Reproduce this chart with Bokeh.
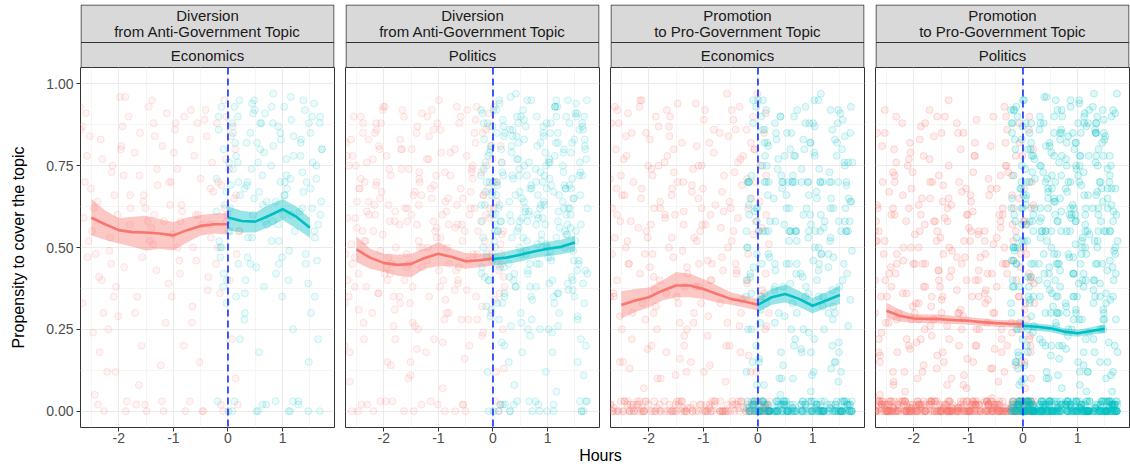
from bokeh.plotting import figure
from bokeh.models import Range1d, FixedTicker, Grid, Span, PrintfTickFormatter
from bokeh.layouts import row, column
from bokeh.embed import file_html
from bokeh.resources import INLINE
from bokeh.core.properties import value

# ---------------- data ----------------
FACET_TOP = ["Diversion\nfrom Anti-Government Topic", "Diversion\nfrom Anti-Government Topic",
             "Promotion\nto Pro-Government Topic", "Promotion\nto Pro-Government Topic"]
FACET_BOTTOM = ["Economics", "Politics", "Economics", "Politics"]
X_TICKS = [-2, -1, 0, 1]
X_MINOR = [-2.5, -1.5, -0.5, 0.5, 1.5]
Y_TICKS = [0, 0.25, 0.5, 0.75, 1.0]
Y_MINOR = [0.125, 0.375, 0.625, 0.875]
X_LABEL = "Hours"
Y_LABEL = "Propensity to cover the topic"

# jittered hour positions of the observations (pre = red, post = teal)
X_RED_12 = [-2.67,-2.46,-2.31,-2.58,-2.38,-2.71,-2.49,-2.35,-2.62,-2.42,-2.53,-2.28,
            -1.91,-2.14,-1.82,-2.02,-2.19,-1.87,-1.95,-2.09,-1.79,-2.16,-1.98,-2.06,
            -1.54,-1.34,-1.70,-1.43,-1.39,-1.63,-1.30,-1.57,-1.47,-1.68,-1.36,-1.51,
            -1.17,-0.96,-0.81,-1.08,-0.88,-1.21,-0.99,-0.85,-1.12,-0.92,-1.03,-0.78,
            -0.41,-0.64,-0.32,-0.52,-0.69,-0.37,-0.45,-0.59,-0.29,-0.66,-0.48,-0.56,
            -0.04,0.16,-0.20,0.07,0.11,-0.13,0.20,-0.07,0.03,-0.18,0.14,-0.01]
X_RED_14 = [-2.60,-2.39,-2.66,-2.44,-2.30,-2.55,-2.70,-2.36,-2.51,-2.27,-2.64,-2.47,-2.33,-2.57,
            -2.13,-1.88,-2.05,-1.80,-2.21,-1.96,-2.08,-1.85,-2.17,-1.93,-2.01,-1.78,-2.11,-1.90,
            -1.61,-1.40,-1.52,-1.29,-1.66,-1.45,-1.35,-1.58,-1.71,-1.37,-1.49,-1.62,-1.31,-1.55,
            -1.06,-1.20,-0.89,-1.14,-0.80,-1.01,-1.18,-0.93,-1.09,-0.84,-0.97,-1.23,-0.87,-1.04,
            -0.62,-0.36,-0.55,-0.43,-0.70,-0.31,-0.50,-0.65,-0.39,-0.58,-0.27,-0.47,-0.68,-0.34,
            -0.12,0.09,-0.19,0.18,-0.06,0.13,-0.15,0.02,0.21,-0.09,0.06,-0.22,0.15,-0.03]
X_RED_20 = [-2.67,-2.46,-2.31,-2.58,-2.38,-2.71,-2.49,-2.35,-2.62,-2.42,-2.53,-2.28,-2.41,-2.64,-2.32,-2.52,-2.69,-2.37,-2.45,-2.59,
            -1.91,-2.14,-1.82,-2.02,-2.19,-1.87,-1.95,-2.09,-1.79,-2.16,-1.98,-2.06,-2.04,-1.84,-2.20,-1.93,-1.89,-2.13,-1.80,-2.07,
            -1.54,-1.34,-1.70,-1.43,-1.39,-1.63,-1.30,-1.57,-1.47,-1.68,-1.36,-1.51,-1.67,-1.46,-1.31,-1.58,-1.38,-1.71,-1.49,-1.35,
            -1.17,-0.96,-0.81,-1.08,-0.88,-1.21,-0.99,-0.85,-1.12,-0.92,-1.03,-0.78,-0.91,-1.14,-0.82,-1.02,-1.19,-0.87,-0.95,-1.09,
            -0.41,-0.64,-0.32,-0.52,-0.69,-0.37,-0.45,-0.59,-0.29,-0.66,-0.48,-0.56,-0.54,-0.34,-0.70,-0.43,-0.39,-0.63,-0.30,-0.57,
            -0.04,0.16,-0.20,0.07,0.11,-0.13,0.20,-0.07,0.03,-0.18,0.14,-0.01,-0.17,0.04,0.19,-0.08,0.12,-0.21,0.01,0.15]
X_TEAL_16 = [-0.17,0.04,0.19,-0.08,0.12,-0.21,0.01,0.15,-0.12,0.08,-0.03,0.22,0.09,-0.14,0.18,-0.02,
             0.59,0.36,0.68,0.48,0.31,0.63,0.55,0.41,0.71,0.34,0.52,0.44,0.46,0.66,0.30,0.57,
             0.96,1.16,0.80,1.07,1.11,0.87,1.20,0.93,1.03,0.82,1.14,0.99,0.83,1.04,1.19,0.92,
             1.33,1.54,1.69,1.42,1.62,1.29,1.51,1.65,1.38,1.58,1.47,1.72,1.59,1.36,1.68,1.48]
X_TEAL_20 = [0.06,-0.15,0.20,-0.05,0.14,-0.22,0.03,0.17,-0.10,0.10,-0.01,0.21,0.07,-0.18,0.16,-0.07,-0.20,0.11,0.00,-0.12,
             0.44,0.62,0.33,0.70,0.51,0.38,0.66,0.29,0.57,0.47,0.72,0.35,0.60,0.42,0.68,0.53,0.31,0.64,0.49,0.39,
             1.05,0.81,1.18,0.94,1.09,0.78,1.13,0.89,1.21,0.98,0.85,1.06,1.16,0.91,1.02,0.79,1.11,0.86,1.19,0.97,
             1.45,1.67,1.34,1.57,1.28,1.70,1.43,1.61,1.37,1.52,1.66,1.30,1.49,1.73,1.40,1.55,1.32,1.64,1.46,1.60]
X_TEAL_24 = [-0.17,0.04,0.19,-0.08,0.12,-0.21,0.01,0.15,-0.12,0.08,-0.03,0.22,0.09,-0.14,0.18,-0.02,-0.19,0.13,0.05,-0.09,0.21,-0.16,0.02,-0.06,
             0.59,0.36,0.68,0.48,0.31,0.63,0.55,0.41,0.71,0.34,0.52,0.44,0.46,0.66,0.30,0.57,0.61,0.37,0.70,0.43,0.53,0.32,0.64,0.49,
             0.96,1.16,0.80,1.07,1.11,0.87,1.20,0.93,1.03,0.82,1.14,0.99,0.83,1.04,1.19,0.92,1.12,0.79,1.01,1.15,0.88,1.08,0.97,1.22,
             1.33,1.54,1.69,1.42,1.62,1.29,1.51,1.65,1.38,1.58,1.47,1.72,1.59,1.36,1.68,1.48,1.31,1.63,1.55,1.41,1.71,1.34,1.52,1.44]

# propensity values of the observations, per facet
P1_RED_Y = [0.87,0.62,0.40,0.78,0.02,0.93,0.55,0.18,0.70,0.48,0.84,0.30,
            0.72,0.45,0.90,0.60,0.25,0.00,0.81,0.35,0.66,0.53,0.96,0.12,
            0.66,0.84,0.30,0.52,0.95,0.08,0.74,0.47,0.58,0.02,0.88,0.62,
            0.58,0.88,0.20,0.70,0.42,0.03,0.79,0.63,0.91,0.50,0.35,0.00,
            0.92,0.50,0.68,0.15,0.83,0.37,0.00,0.60,0.76,0.27,0.57,0.88,
            0.77,0.48,0.88,0.22,0.65,0.02,0.55,0.95,0.40,0.70,0.10,0.60]
P1_RED_Y2 = [0.91,0.64,0.33,0.05,0.77,0.52,0.86,0.41,0.68,0.00,0.59,0.24,0.83,0.47,
             0.73,0.96,0.38,0.57,0.12,0.80,0.66,0.03,0.49,0.87,0.29,0.62,0.75,0.44,
             0.85,0.56,0.02,0.69,0.35,0.93,0.60,0.20,0.79,0.51,0.00,0.72,0.43,0.64,
             0.63,0.81,0.46,0.27,0.90,0.54,0.00,0.74,0.39,0.61,0.86,0.14,0.58,0.70,
             0.78,0.41,0.60,0.89,0.03,0.53,0.71,0.32,0.84,0.46,0.67,0.00,0.92,0.57,
             0.69,0.87,0.50,0.02,0.62,0.80,0.36,0.74,0.55,0.00,0.84,0.45,0.66,0.90]
P1_TEAL_Y = [0.90,0.62,0.45,0.80,0.03,0.71,0.55,0.35,0.93,0.00,0.67,0.22,0.85,0.50,0.76,0.40,
             0.88,0.70,0.58,0.95,0.30,0.02,0.76,0.45,0.64,0.82,0.00,0.53,0.91,0.38,0.68,0.18,
             0.85,0.60,0.93,0.72,0.40,0.03,0.78,0.52,0.66,0.88,0.00,0.47,0.97,0.70,0.25,0.57,
             0.82,0.90,0.60,0.45,0.75,0.03,0.68,0.22,0.95,0.55,0.00,0.80,0.35,0.62,0.88,0.15]
P1_TEAL_Y2 = [0.86,0.55,0.70,0.42,0.93,0.61,0.00,0.78,0.50,0.88,0.33,0.66,0.74,0.47,0.90,0.58,0.03,0.82,0.69,0.38,0.95,0.52,0.76,0.63,
              0.80,0.47,0.91,0.65,0.36,0.72,0.00,0.85,0.57,0.69,0.44,0.94,0.60,0.79,0.28,0.67,0.88,0.53,0.02,0.74,0.82,0.40,0.63,0.92,
              0.70,0.89,0.52,0.77,0.00,0.64,0.84,0.45,0.93,0.58,0.71,0.35,0.81,0.66,0.03,0.87,0.49,0.75,0.60,0.96,0.42,0.68,0.83,0.55,
              0.78,0.62,0.90,0.48,0.71,0.02,0.85,0.57,0.67,0.94,0.39,0.80,0.53,0.73,0.00,0.88,0.61,0.46,0.76,0.92,0.64,0.83,0.30,0.70]

P2_RED_Y = [0.83,0.55,0.40,0.68,0.02,0.90,0.48,0.22,0.75,0.60,0.35,0.00,0.52,0.78,
            0.70,0.42,0.88,0.58,0.30,0.03,0.80,0.45,0.63,0.15,0.93,0.50,0.36,0.74,
            0.62,0.85,0.33,0.50,0.92,0.00,0.71,0.44,0.57,0.25,0.80,0.40,0.66,0.10,
            0.55,0.90,0.28,0.68,0.45,0.02,0.77,0.60,0.86,0.50,0.38,0.18,0.64,0.72,
            0.88,0.48,0.65,0.20,0.80,0.35,0.00,0.57,0.73,0.28,0.55,0.92,0.43,0.62,
            0.75,0.45,0.85,0.25,0.62,0.02,0.52,0.93,0.38,0.68,0.12,0.58,0.48,0.30]
P2_RED_Y2 = [0.78,0.42,0.61,0.00,0.85,0.33,0.56,0.70,0.18,0.90,0.47,0.64,0.02,0.75,0.38,0.59,0.82,0.27,0.68,0.51,
             0.63,0.88,0.35,0.54,0.00,0.72,0.44,0.81,0.22,0.60,0.93,0.49,0.67,0.03,0.77,0.40,0.58,0.86,0.31,0.65,
             0.45,0.70,0.83,0.26,0.57,0.00,0.91,0.62,0.38,0.74,0.52,0.15,0.80,0.66,0.02,0.48,0.87,0.35,0.60,0.73,
             0.84,0.53,0.30,0.69,0.00,0.77,0.43,0.61,0.92,0.21,0.56,0.72,0.40,0.03,0.65,0.88,0.50,0.34,0.79,0.58,
             0.67,0.39,0.82,0.55,0.00,0.71,0.46,0.90,0.28,0.63,0.78,0.52,0.02,0.85,0.37,0.60,0.74,0.44,0.93,0.57,
             0.50,0.76,0.32,0.64,0.00,0.86,0.41,0.59,0.70,0.24,0.81,0.48,0.66,0.03,0.55,0.91,0.36,0.73,0.62,0.45]
P2_RED_Y3 = [0.59,0.31,0.76,0.45,0.88,0.20,0.64,0.52,0.09,0.71,0.38,0.83,
             0.47,0.69,0.26,0.92,0.55,0.14,0.78,0.36,0.61,0.85,0.42,0.03,
             0.74,0.50,0.33,0.67,0.19,0.90,0.44,0.58,0.27,0.80,0.63,0.11,
             0.35,0.86,0.57,0.22,0.73,0.46,0.95,0.30,0.65,0.07,0.53,0.79,
             0.62,0.40,0.89,0.16,0.56,0.75,0.28,0.68,0.48,0.93,0.37,0.02,
             0.81,0.54,0.23,0.70,0.43,0.60,0.13,0.87,0.34,0.66,0.51,0.77]
P2_TEAL_Y = [0.92,0.63,0.44,0.80,0.02,0.72,0.55,0.33,0.88,0.00,0.67,0.20,0.85,0.50,0.76,0.40,0.58,0.28,0.70,0.47,
             0.90,0.72,0.58,0.95,0.30,0.02,0.76,0.45,0.64,0.82,0.00,0.53,0.87,0.38,0.68,0.18,0.60,0.25,0.50,0.42,
             0.85,0.60,0.93,0.72,0.40,0.03,0.78,0.52,0.66,0.88,0.00,0.47,0.95,0.70,0.25,0.57,0.35,0.62,0.82,0.12,
             0.82,0.90,0.60,0.45,0.75,0.03,0.68,0.22,0.95,0.55,0.00,0.80,0.35,0.62,0.88,0.15,0.50,0.72,0.40,0.66]
P2_TEAL_Y2 = [0.88,0.57,0.72,0.40,0.94,0.63,0.00,0.80,0.48,0.69,0.31,0.85,0.55,0.76,0.02,0.66,0.91,0.44,0.60,0.78,0.36,0.83,0.52,0.70,
              0.62,0.86,0.45,0.74,0.00,0.58,0.92,0.38,0.68,0.81,0.27,0.55,0.77,0.03,0.64,0.89,0.49,0.71,0.35,0.84,0.59,0.96,0.42,0.67,
              0.79,0.53,0.90,0.46,0.00,0.73,0.61,0.84,0.39,0.66,0.93,0.50,0.02,0.76,0.58,0.87,0.33,0.70,0.47,0.82,0.63,0.24,0.75,0.56,
              0.68,0.91,0.43,0.60,0.00,0.79,0.52,0.86,0.37,0.72,0.65,0.95,0.03,0.57,0.81,0.46,0.69,0.88,0.29,0.62,0.77,0.54,0.90,0.41]
P2_TEAL_Y3 = [0.74,0.50,0.87,0.00,0.63,0.42,0.92,0.58,0.70,0.33,0.81,0.02,0.55,0.67,0.89,0.46,
              0.61,0.84,0.38,0.72,0.00,0.95,0.53,0.66,0.28,0.79,0.48,0.03,0.88,0.60,0.41,0.75,
              0.57,0.90,0.45,0.69,0.02,0.82,0.36,0.64,0.77,0.51,0.93,0.00,0.59,0.71,0.26,0.85,
              0.68,0.43,0.80,0.56,0.00,0.73,0.91,0.39,0.62,0.86,0.49,0.03,0.76,0.54,0.83,0.65]
P2_TEAL_Y4 = [0.66,0.41,0.84,0.29,0.58,0.92,0.47,0.73,0.12,0.62,0.87,0.35,0.70,0.53,0.21,0.79,0.44,0.95,0.60,0.32,
              0.77,0.52,0.26,0.69,0.90,0.40,0.61,0.15,0.83,0.56,0.34,0.72,0.48,0.97,0.23,0.65,0.86,0.43,0.58,0.08,
              0.49,0.81,0.36,0.63,0.18,0.74,0.93,0.54,0.30,0.68,0.45,0.88,0.06,0.59,0.76,0.38,0.67,0.25,0.85,0.51,
              0.71,0.33,0.90,0.46,0.64,0.20,0.79,0.57,0.39,0.94,0.11,0.62,0.83,0.42,0.69,0.28,0.55,0.87,0.37,0.73]

P3_RED_Y = [0.80,0.52,0.00,0.66,0.30,0.88,0.02,0.45,0.72,0.00,0.36,0.15,0.58,0.92,
            0.68,0.00,0.85,0.40,0.03,0.57,0.00,0.25,0.93,0.48,0.75,0.10,0.33,0.62,
            0.90,0.00,0.60,0.42,0.78,0.03,0.20,0.53,0.00,0.70,0.35,0.84,0.12,0.47,
            0.55,0.00,0.82,0.38,0.02,0.68,0.27,0.00,0.75,0.45,0.92,0.15,0.60,0.33,
            0.72,0.03,0.50,0.00,0.85,0.30,0.62,0.00,0.42,0.20,0.78,0.02,0.56,0.93,
            0.65,0.00,0.40,0.02,0.80,0.25,0.00,0.55,0.03,0.90,0.35,0.00,0.72,0.12]
P3_RED_Y2 = [0.62,0.00,0.85,0.40,0.03,0.71,0.25,0.00,0.93,0.50,0.15,0.02,0.78,0.35,0.00,0.58,0.88,0.45,0.03,0.68,
             0.30,0.00,0.75,0.53,0.02,0.90,0.20,0.00,0.64,0.42,0.83,0.03,0.55,0.10,0.00,0.72,0.37,0.95,0.02,0.48,
             0.80,0.00,0.60,0.27,0.03,0.87,0.44,0.00,0.70,0.18,0.57,0.02,0.92,0.33,0.00,0.66,0.49,0.76,0.03,0.23,
             0.53,0.00,0.86,0.38,0.02,0.69,0.12,0.00,0.81,0.46,0.62,0.03,0.29,0.94,0.00,0.57,0.74,0.40,0.02,0.65,
             0.45,0.00,0.77,0.20,0.03,0.59,0.89,0.00,0.34,0.67,0.52,0.02,0.84,0.26,0.00,0.73,0.43,0.61,0.03,0.97,
             0.70,0.00,0.39,0.56,0.02,0.82,0.30,0.00,0.64,0.48,0.91,0.03,0.17,0.75,0.00,0.54,0.36,0.86,0.02,0.60]
P3_RED_Y3 = [0.48,0.77,0.22,0.60,0.91,0.35,0.66,0.13,0.53,0.84,0.29,0.70,
             0.41,0.65,0.87,0.19,0.56,0.32,0.74,0.07,0.62,0.95,0.44,0.28,
             0.73,0.38,0.59,0.16,0.82,0.50,0.25,0.68,0.94,0.36,0.61,0.11,
             0.30,0.57,0.79,0.45,0.14,0.67,0.89,0.40,0.52,0.23,0.75,0.63,
             0.86,0.43,0.18,0.64,0.33,0.76,0.55,0.09,0.69,0.47,0.92,0.27,
             0.58,0.26,0.71,0.37,0.85,0.12,0.51,0.80,0.34,0.62,0.42,0.97]
P3_RED_Z = [0.00,0.02,0.00,0.03,0.01,0.00,0.02,0.00,0.03,0.00,0.01,0.00,0.02,0.00,
            0.01,0.00,0.03,0.00,0.02,0.00,0.00,0.01,0.03,0.00,0.02,0.00,0.00,0.03,
            0.00,0.03,0.00,0.01,0.00,0.02,0.00,0.00,0.03,0.01,0.00,0.02,0.00,0.00,
            0.02,0.00,0.01,0.00,0.03,0.00,0.02,0.00,0.00,0.03,0.00,0.01,0.00,0.02,
            0.00,0.01,0.00,0.02,0.00,0.03,0.00,0.00,0.02,0.00,0.01,0.03,0.00,0.00,
            0.03,0.00,0.02,0.00,0.00,0.01,0.00,0.03,0.00,0.02,0.00,0.00,0.01,0.00]
P3_TEAL_Y = [0.90,0.00,0.70,0.02,0.55,0.35,0.00,0.82,0.15,0.03,0.62,0.00,0.45,0.25,0.75,0.00,0.50,0.08,0.95,0.02,
             0.70,0.00,0.85,0.55,0.02,0.30,0.00,0.65,0.45,0.03,0.92,0.00,0.55,0.18,0.70,0.00,0.38,0.02,0.78,0.10,
             0.55,0.00,0.70,0.88,0.02,0.42,0.00,0.62,0.25,0.03,0.80,0.00,0.48,0.70,0.12,0.00,0.95,0.02,0.35,0.57,
             0.82,0.00,0.70,0.45,0.02,0.93,0.00,0.55,0.28,0.03,0.65,0.00,0.38,0.76,0.15,0.00,0.52,0.02,0.88,0.62]
P3_TEAL_Y2 = [0.70,0.00,0.55,0.02,0.82,0.40,0.00,0.70,0.25,0.03,0.93,0.00,0.55,0.65,0.00,0.48,0.70,0.02,0.35,0.88,0.00,0.60,0.15,0.03,
              0.55,0.00,0.78,0.02,0.45,0.70,0.00,0.90,0.30,0.03,0.62,0.00,0.70,0.20,0.00,0.55,0.85,0.02,0.42,0.72,0.00,0.58,0.10,0.03,
              0.82,0.00,0.70,0.02,0.50,0.35,0.00,0.66,0.95,0.03,0.55,0.00,0.25,0.78,0.00,0.70,0.45,0.02,0.88,0.60,0.00,0.40,0.18,0.03,
              0.62,0.00,0.85,0.02,0.70,0.48,0.00,0.55,0.32,0.03,0.92,0.00,0.75,0.20,0.00,0.58,0.70,0.02,0.40,0.83,0.00,0.65,0.12,0.03]
P3_TEAL_Y3 = [0.70,0.00,0.48,0.02,0.86,0.55,0.00,0.33,0.72,0.03,0.62,0.00,0.95,0.42,0.00,0.58,
              0.80,0.00,0.55,0.02,0.27,0.70,0.00,0.90,0.45,0.03,0.66,0.00,0.38,0.78,0.00,0.52,
              0.60,0.00,0.74,0.02,0.43,0.88,0.00,0.55,0.22,0.03,0.70,0.00,0.83,0.50,0.00,0.36,
              0.92,0.00,0.64,0.02,0.55,0.30,0.00,0.76,0.47,0.03,0.70,0.00,0.58,0.86,0.00,0.18]
P3_TEAL_Y4 = [0.63,0.27,0.81,0.44,0.70,0.12,0.55,0.92,0.36,0.75,0.20,0.58,0.86,0.41,0.66,0.08,0.50,0.78,0.31,0.95,0.47,0.70,0.16,0.61,
              0.39,0.74,0.22,0.57,0.88,0.33,0.70,0.05,0.52,0.83,0.45,0.68,0.14,0.90,0.37,0.62,0.25,0.77,0.55,0.10,0.85,0.43,0.72,0.29,
              0.82,0.48,0.18,0.67,0.35,0.93,0.56,0.24,0.79,0.41,0.70,0.11,0.60,0.87,0.32,0.53,0.74,0.19,0.46,0.97,0.38,0.65,0.06,0.58,
              0.53,0.80,0.34,0.15,0.69,0.44,0.91,0.26,0.62,0.76,0.09,0.49,0.84,0.37,0.58,0.21,0.73,0.42,0.89,0.30,0.64,0.13,0.55,0.78]
P3_TEAL_Z = [0.00,0.02,0.00,0.03,0.00,0.01,0.00,0.02,0.00,0.03,0.00,0.00,0.01,0.00,0.02,0.00,0.03,0.00,0.00,0.02,0.00,0.01,0.00,0.03,
             0.02,0.00,0.00,0.03,0.00,0.01,0.00,0.02,0.00,0.00,0.03,0.00,0.02,0.00,0.01,0.00,0.00,0.03,0.00,0.02,0.00,0.00,0.01,0.00,
             0.00,0.03,0.00,0.01,0.00,0.02,0.00,0.00,0.03,0.00,0.02,0.00,0.00,0.01,0.00,0.03,0.00,0.02,0.00,0.00,0.01,0.00,0.03,0.00,
             0.01,0.00,0.02,0.00,0.03,0.00,0.00,0.02,0.00,0.01,0.00,0.03,0.00,0.00,0.02,0.00,0.01,0.00,0.03,0.00,0.00,0.02,0.00,0.01]

P4_RED_Y = [0.85,0.00,0.45,0.02,0.62,0.30,0.00,0.72,0.15,0.03,0.52,0.00,0.38,0.22,0.90,0.00,0.58,0.08,0.42,0.02,
            0.50,0.00,0.78,0.32,0.02,0.60,0.00,0.20,0.88,0.03,0.45,0.00,0.68,0.12,0.36,0.00,0.55,0.02,0.25,0.82,
            0.40,0.00,0.65,0.90,0.02,0.28,0.00,0.55,0.18,0.03,0.75,0.00,0.35,0.48,0.10,0.00,0.62,0.02,0.85,0.22,
            0.70,0.00,0.35,0.52,0.02,0.88,0.00,0.25,0.45,0.03,0.60,0.00,0.15,0.80,0.40,0.00,0.30,0.02,0.55,0.08,
            0.58,0.00,0.82,0.30,0.02,0.45,0.00,0.68,0.20,0.03,0.38,0.00,0.90,0.12,0.52,0.00,0.25,0.02,0.75,0.42,
            0.48,0.00,0.72,0.28,0.02,0.55,0.00,0.88,0.15,0.03,0.40,0.00,0.62,0.33,0.80,0.00,0.22,0.02,0.50,0.10]
P4_RED_Y2 = [0.35,0.00,0.62,0.02,0.18,0.48,0.00,0.80,0.27,0.03,0.55,0.00,0.42,0.70,
             0.22,0.00,0.50,0.02,0.88,0.33,0.00,0.65,0.12,0.03,0.45,0.00,0.75,0.28,
             0.58,0.00,0.38,0.02,0.70,0.15,0.00,0.52,0.92,0.03,0.30,0.00,0.63,0.43,
             0.47,0.00,0.78,0.02,0.25,0.60,0.00,0.35,0.85,0.03,0.52,0.00,0.20,0.68,
             0.66,0.00,0.30,0.02,0.55,0.90,0.00,0.42,0.18,0.03,0.73,0.00,0.37,0.50,
             0.40,0.00,0.57,0.02,0.82,0.23,0.00,0.68,0.33,0.03,0.48,0.00,0.62,0.15]
P4_RED_Y3 = [0.52,0.00,0.28,0.02,0.73,0.40,0.00,0.60,0.17,0.03,0.85,0.00,
             0.63,0.00,0.38,0.02,0.50,0.22,0.00,0.77,0.45,0.03,0.30,0.00,
             0.43,0.00,0.70,0.02,0.26,0.58,0.00,0.90,0.35,0.03,0.65,0.00,
             0.30,0.00,0.55,0.02,0.82,0.47,0.00,0.20,0.67,0.03,0.40,0.00,
             0.72,0.00,0.45,0.02,0.33,0.60,0.00,0.13,0.86,0.03,0.53,0.00,
             0.25,0.00,0.66,0.02,0.42,0.78,0.00,0.35,0.58,0.03,0.20,0.00]
P4_RED_Y4 = [0.63,0.27,0.48,0.81,0.12,0.55,0.35,0.70,0.05,0.44,0.92,0.30,0.60,0.18,0.76,0.40,0.52,0.09,0.67,0.24,
             0.33,0.58,0.14,0.73,0.46,0.87,0.21,0.62,0.38,0.06,0.54,0.79,0.28,0.45,0.66,0.10,0.83,0.36,0.57,0.19,
             0.72,0.41,0.26,0.59,0.08,0.84,0.49,0.17,0.64,0.32,0.95,0.53,0.23,0.69,0.43,0.13,0.58,0.77,0.34,0.50,
             0.20,0.66,0.43,0.11,0.78,0.37,0.56,0.89,0.25,0.61,0.07,0.47,0.73,0.31,0.54,0.16,0.85,0.40,0.64,0.29,
             0.56,0.34,0.75,0.19,0.48,0.62,0.09,0.81,0.42,0.27,0.68,0.13,0.51,0.93,0.36,0.60,0.22,0.71,0.45,0.04,
             0.44,0.70,0.24,0.57,0.86,0.14,0.39,0.65,0.31,0.52,0.18,0.78,0.46,0.07,0.63,0.35,0.90,0.27,0.58,0.41]
P4_RED_Z = [0.00,0.02,0.00,0.03,0.01,0.00,0.02,0.00,0.03,0.00,0.01,0.02,0.00,0.03,0.00,0.02,0.00,0.01,0.03,0.00,
            0.02,0.00,0.03,0.00,0.00,0.01,0.02,0.00,0.00,0.03,0.00,0.02,0.01,0.00,0.03,0.00,0.02,0.00,0.00,0.01,
            0.00,0.03,0.00,0.02,0.00,0.00,0.01,0.03,0.00,0.02,0.00,0.00,0.03,0.01,0.00,0.02,0.00,0.03,0.00,0.00,
            0.01,0.00,0.02,0.00,0.03,0.00,0.00,0.02,0.01,0.00,0.03,0.00,0.02,0.00,0.00,0.03,0.01,0.00,0.02,0.00,
            0.00,0.02,0.00,0.01,0.00,0.03,0.02,0.00,0.00,0.03,0.01,0.00,0.02,0.00,0.03,0.00,0.00,0.02,0.00,0.01,
            0.03,0.00,0.01,0.00,0.02,0.00,0.03,0.00,0.00,0.02,0.00,0.01,0.00,0.03,0.00,0.02,0.00,0.00,0.01,0.03]
P4_RED_Z2 = [0.01,0.00,0.03,0.00,0.02,0.00,0.00,0.03,0.00,0.01,0.02,0.00,0.00,0.03,
             0.00,0.02,0.00,0.00,0.03,0.01,0.00,0.02,0.00,0.03,0.00,0.00,0.01,0.02,
             0.03,0.00,0.02,0.00,0.00,0.01,0.03,0.00,0.02,0.00,0.00,0.03,0.01,0.00,
             0.00,0.01,0.00,0.03,0.02,0.00,0.00,0.02,0.03,0.00,0.01,0.00,0.02,0.00,
             0.02,0.00,0.00,0.03,0.00,0.01,0.02,0.00,0.00,0.03,0.00,0.02,0.00,0.01,
             0.00,0.03,0.01,0.00,0.02,0.00,0.00,0.03,0.00,0.02,0.01,0.00,0.03,0.00]
P4_TEAL_Y = [0.92,0.00,0.55,0.02,0.70,0.30,0.00,0.82,0.45,0.03,0.62,0.00,0.18,0.50,0.00,0.75,0.38,0.02,0.88,0.25,0.00,0.60,0.10,0.03,
             0.70,0.00,0.85,0.42,0.02,0.58,0.00,0.30,0.92,0.03,0.50,0.00,0.65,0.20,0.00,0.78,0.35,0.02,0.55,0.12,0.00,0.88,0.45,0.03,
             0.60,0.00,0.82,0.48,0.02,0.93,0.00,0.35,0.70,0.03,0.55,0.00,0.25,0.75,0.00,0.42,0.88,0.02,0.15,0.62,0.00,0.50,0.30,0.03,
             0.85,0.00,0.50,0.70,0.02,0.40,0.00,0.92,0.62,0.03,0.28,0.00,0.78,0.45,0.00,0.55,0.18,0.02,0.68,0.35,0.00,0.88,0.10,0.03]
P4_TEAL_Y2 = [0.66,0.00,0.45,0.02,0.80,0.33,0.00,0.58,0.90,0.03,0.22,0.00,0.70,0.50,0.00,0.38,0.85,0.02,0.62,0.15,
              0.52,0.00,0.75,0.02,0.30,0.88,0.00,0.45,0.65,0.03,0.20,0.00,0.95,0.55,0.00,0.72,0.35,0.02,0.82,0.42,
              0.78,0.00,0.55,0.02,0.40,0.68,0.00,0.25,0.92,0.03,0.60,0.00,0.48,0.85,0.00,0.32,0.73,0.02,0.12,0.58,
              0.45,0.00,0.88,0.02,0.62,0.28,0.00,0.75,0.52,0.03,0.40,0.00,0.83,0.18,0.00,0.65,0.35,0.02,0.92,0.55]
P4_TEAL_Y3 = [0.72,0.00,0.35,0.02,0.58,0.88,0.00,0.45,0.25,0.03,0.68,0.00,0.80,0.15,0.00,0.52,
              0.40,0.00,0.65,0.02,0.90,0.30,0.00,0.55,0.78,0.03,0.20,0.00,0.62,0.45,0.00,0.85,
              0.58,0.00,0.75,0.02,0.38,0.95,0.00,0.62,0.28,0.03,0.50,0.00,0.70,0.12,0.00,0.42,
              0.85,0.00,0.48,0.02,0.68,0.22,0.00,0.35,0.60,0.03,0.78,0.00,0.55,0.90,0.00,0.30]
P4_TEAL_Y4 = [0.50,0.00,0.78,0.02,0.33,0.62,0.00,0.88,0.45,0.03,0.70,0.00,0.25,0.58,0.00,0.83,0.40,0.02,0.65,0.18,0.00,0.92,0.52,0.03,
              0.60,0.00,0.38,0.02,0.75,0.48,0.00,0.20,0.85,0.03,0.55,0.00,0.68,0.30,0.00,0.90,0.45,0.02,0.72,0.10,0.00,0.62,0.35,0.03,
              0.82,0.00,0.55,0.02,0.42,0.70,0.00,0.28,0.95,0.03,0.60,0.00,0.48,0.78,0.00,0.35,0.66,0.02,0.88,0.22,0.00,0.52,0.75,0.03,
              0.45,0.00,0.68,0.02,0.90,0.33,0.00,0.58,0.80,0.03,0.25,0.00,0.72,0.50,0.00,0.85,0.40,0.02,0.62,0.15,0.00,0.78,0.55,0.03]
P4_TEAL_Y5 = [0.57,0.83,0.26,0.68,0.41,0.92,0.14,0.73,0.50,0.35,0.87,0.62,0.20,0.46,0.78,0.08,0.65,0.38,0.95,0.53,
              0.71,0.30,0.59,0.86,0.17,0.48,0.76,0.40,0.64,0.10,0.90,0.55,0.27,0.81,0.43,0.68,0.22,0.58,0.37,0.96,
              0.45,0.67,0.12,0.80,0.53,0.33,0.91,0.60,0.24,0.74,0.47,0.85,0.06,0.63,0.39,0.77,0.18,0.55,0.88,0.31,
              0.82,0.49,0.66,0.21,0.93,0.42,0.58,0.11,0.75,0.36,0.61,0.97,0.28,0.52,0.70,0.15,0.86,0.44,0.64,0.34]
P4_TEAL_Y6 = [0.38,0.74,0.60,0.17,0.85,0.46,0.66,0.29,0.93,0.52,0.09,0.71,0.41,0.80,0.24,0.57,0.88,0.34,0.63,0.13,0.77,0.49,0.95,0.27,
              0.64,0.21,0.83,0.44,0.58,0.92,0.32,0.70,0.07,0.55,0.79,0.39,0.67,0.16,0.86,0.48,0.26,0.73,0.61,0.96,0.36,0.53,0.11,0.81,
              0.51,0.87,0.30,0.69,0.14,0.62,0.78,0.42,0.94,0.23,0.57,0.35,0.84,0.08,0.66,0.47,0.90,0.19,0.72,0.40,0.59,0.28,0.82,0.54,
              0.76,0.43,0.91,0.25,0.63,0.37,0.84,0.12,0.55,0.70,0.31,0.97,0.46,0.67,0.20,0.89,0.52,0.06,0.74,0.39,0.60,0.85,0.33,0.68]
P4_TEAL_Z = [0.00,0.02,0.00,0.03,0.00,0.01,0.00,0.02,0.00,0.03,0.00,0.00,0.01,0.00,0.02,0.00,0.03,0.00,0.00,0.02,0.00,0.01,0.00,0.03,
             0.02,0.00,0.00,0.03,0.00,0.01,0.00,0.02,0.00,0.00,0.03,0.00,0.02,0.00,0.01,0.00,0.00,0.03,0.00,0.02,0.00,0.00,0.01,0.00,
             0.00,0.03,0.00,0.01,0.00,0.02,0.00,0.00,0.03,0.00,0.02,0.00,0.00,0.01,0.00,0.03,0.00,0.02,0.00,0.00,0.01,0.00,0.03,0.00,
             0.01,0.00,0.02,0.00,0.03,0.00,0.00,0.02,0.00,0.01,0.00,0.03,0.00,0.00,0.02,0.00,0.01,0.00,0.03,0.00,0.00,0.02,0.00,0.01]
P4_TEAL_Z2 = [0.02,0.00,0.01,0.00,0.03,0.00,0.00,0.02,0.00,0.01,0.03,0.00,0.00,0.02,0.00,0.01,0.00,0.03,0.00,0.02,
              0.00,0.03,0.00,0.02,0.00,0.00,0.01,0.00,0.03,0.00,0.02,0.00,0.00,0.01,0.03,0.00,0.02,0.00,0.00,0.01,
              0.01,0.00,0.03,0.00,0.00,0.02,0.00,0.01,0.00,0.03,0.00,0.02,0.00,0.00,0.01,0.03,0.00,0.02,0.00,0.00,
              0.00,0.02,0.00,0.01,0.00,0.03,0.00,0.00,0.02,0.00,0.01,0.00,0.03,0.02,0.00,0.00,0.01,0.00,0.03,0.00]

# smoothed fits (loess) with confidence bands
SX_RED = [-2.5, -2.25, -2.0, -1.75, -1.5, -1.25, -1.0, -0.75, -0.5, -0.25, 0.0]
SX_TEAL = [0.0, 0.25, 0.5, 0.75, 1.0, 1.25, 1.5]

P1_RED_FIT = [0.591,0.571,0.553,0.547,0.546,0.543,0.537,0.553,0.566,0.571,0.571]
P1_RED_LO = [0.537,0.524,0.512,0.502,0.491,0.496,0.491,0.515,0.537,0.543,0.539]
P1_RED_HI = [0.648,0.614,0.589,0.594,0.597,0.586,0.578,0.592,0.599,0.604,0.606]
P1_TEAL_FIT = [0.592,0.581,0.579,0.597,0.617,0.594,0.560]
P1_TEAL_LO = [0.553,0.546,0.546,0.563,0.584,0.558,0.530]
P1_TEAL_HI = [0.625,0.612,0.607,0.630,0.648,0.625,0.589]

P2_RED_FIT = [0.494,0.469,0.453,0.447,0.450,0.468,0.481,0.471,0.458,0.461,0.466]
P2_RED_LO = [0.455,0.435,0.425,0.414,0.409,0.435,0.443,0.443,0.435,0.440,0.445]
P2_RED_HI = [0.534,0.496,0.481,0.478,0.481,0.496,0.517,0.496,0.483,0.481,0.483]
P2_TEAL_FIT = [0.465,0.469,0.478,0.488,0.496,0.502,0.515]
P2_TEAL_LO = [0.445,0.450,0.457,0.468,0.474,0.479,0.488]
P2_TEAL_HI = [0.481,0.488,0.498,0.509,0.517,0.524,0.537]

P3_RED_FIT = [0.324,0.338,0.348,0.368,0.384,0.384,0.373,0.358,0.343,0.335,0.325]
P3_RED_LO = [0.284,0.302,0.317,0.338,0.348,0.348,0.343,0.332,0.325,0.317,0.307]
P3_RED_HI = [0.366,0.373,0.378,0.399,0.425,0.420,0.404,0.384,0.363,0.353,0.343]
P3_TEAL_FIT = [0.325,0.348,0.358,0.343,0.322,0.338,0.355]
P3_TEAL_LO = [0.302,0.325,0.332,0.319,0.298,0.316,0.327]
P3_TEAL_HI = [0.348,0.373,0.386,0.368,0.346,0.363,0.384]

P4_RED_FIT = [0.307,0.291,0.283,0.282,0.281,0.278,0.276,0.272,0.269,0.267,0.266]
P4_RED_LO = [0.284,0.274,0.270,0.269,0.268,0.266,0.264,0.261,0.258,0.256,0.253]
P4_RED_HI = [0.332,0.309,0.296,0.295,0.295,0.291,0.288,0.283,0.279,0.278,0.278]
P4_TEAL_FIT = [0.261,0.258,0.253,0.243,0.238,0.245,0.252]
P4_TEAL_LO = [0.249,0.246,0.242,0.232,0.227,0.234,0.239]
P4_TEAL_HI = [0.271,0.268,0.264,0.253,0.249,0.256,0.266]

# ---------------- style / layout ----------------
RED = "#F8766D"
TEAL = "#00BFC4"
FONT = "Liberation Sans"
PANEL_W = 254
LEFT = 80
STRIP_TOP = 4
STRIP1_H = 38
STRIP2_H = 25
STRIP_H = STRIP1_H + STRIP2_H
FRAME_H = 360
AXIS_H = 21
HOURS_H = 18
GAP = 9
PT_ALPHA = [(0.08, 0.17), (0.08, 0.17), (0.10, 0.20), (0.13, 0.24)]

panels = [
    ((X_RED_12, P1_RED_Y), (X_RED_14, P1_RED_Y2)),
    ((X_RED_14, P2_RED_Y), (X_RED_20, P2_RED_Y2), (X_RED_12, P2_RED_Y3)),
    ((X_RED_14, P3_RED_Y), (X_RED_20, P3_RED_Y2), (X_RED_12, P3_RED_Y3), (X_RED_14, P3_RED_Z)),
    ((X_RED_20, P4_RED_Y), (X_RED_14, P4_RED_Y2), (X_RED_12, P4_RED_Y3), (X_RED_20, P4_RED_Y4),
     (X_RED_20, P4_RED_Z), (X_RED_14, P4_RED_Z2)),
]
panels_teal = [
    ((X_TEAL_16, P1_TEAL_Y), (X_TEAL_24, P1_TEAL_Y2)),
    ((X_TEAL_20, P2_TEAL_Y), (X_TEAL_24, P2_TEAL_Y2), (X_TEAL_16, P2_TEAL_Y3), (X_TEAL_20, P2_TEAL_Y4)),
    ((X_TEAL_20, P3_TEAL_Y), (X_TEAL_24, P3_TEAL_Y2), (X_TEAL_16, P3_TEAL_Y3), (X_TEAL_24, P3_TEAL_Y4),
     (X_TEAL_24, P3_TEAL_Z)),
    ((X_TEAL_24, P4_TEAL_Y), (X_TEAL_20, P4_TEAL_Y2), (X_TEAL_16, P4_TEAL_Y3), (X_TEAL_24, P4_TEAL_Y4),
     (X_TEAL_20, P4_TEAL_Y5), (X_TEAL_24, P4_TEAL_Y6), (X_TEAL_24, P4_TEAL_Z), (X_TEAL_20, P4_TEAL_Z2)),
]
fits = [
    (P1_RED_FIT, P1_RED_LO, P1_RED_HI, P1_TEAL_FIT, P1_TEAL_LO, P1_TEAL_HI),
    (P2_RED_FIT, P2_RED_LO, P2_RED_HI, P2_TEAL_FIT, P2_TEAL_LO, P2_TEAL_HI),
    (P3_RED_FIT, P3_RED_LO, P3_RED_HI, P3_TEAL_FIT, P3_TEAL_LO, P3_TEAL_HI),
    (P4_RED_FIT, P4_RED_LO, P4_RED_HI, P4_TEAL_FIT, P4_TEAL_LO, P4_TEAL_HI),
]


def collect(pairs):
    xs, ys = [], []
    for xl, yl in pairs:
        n = min(len(xl), len(yl))
        xs += xl[:n]
        ys += yl[:n]
    return xs, ys


def fig_width(i):
    return (LEFT if i == 0 else 1) + PANEL_W + 1


def make_strip(i):
    s = figure(width=fig_width(i), height=STRIP_TOP + STRIP_H,
               x_range=Range1d(0, PANEL_W), y_range=Range1d(0, STRIP_H),
               x_axis_location=None, y_axis_location=None, toolbar_location=None, tools="",
               output_backend="svg", min_border_left=(LEFT if i == 0 else 1), min_border_right=1,
               min_border_top=STRIP_TOP, min_border_bottom=0, outline_line_color=None,
               background_fill_color="white", border_fill_color="white")
    s.grid.visible = False
    s.quad(left=[0.5, 0.5], right=[PANEL_W - 0.5, PANEL_W - 0.5],
           bottom=[STRIP2_H, 0.0], top=[STRIP_H - 0.5, STRIP2_H],
           fill_color="#D9D9D9", line_color="#333333", line_width=1)
    s.text(x=[PANEL_W / 2, PANEL_W / 2], y=[STRIP2_H + STRIP1_H / 2, STRIP2_H / 2],
           text=[FACET_TOP[i], FACET_BOTTOM[i]], text_align="center", text_baseline="middle",
           text_font=value(FONT), text_font_size="15px", text_color="#1A1A1A",
           text_line_height=0.9)
    return s


def make_panel(i):
    first = i == 0
    rf, rlo, rhi, tf, tlo, thi = fits[i]
    p = figure(width=fig_width(i), height=FRAME_H + AXIS_H,
               x_range=Range1d(-2.7, 1.95), y_range=Range1d(-0.05, 1.05),
               toolbar_location=None, tools="", output_backend="svg",
               y_axis_location=("left" if first else None),
               min_border_left=(LEFT if first else 1), min_border_right=1,
               min_border_top=0, min_border_bottom=AXIS_H,
               background_fill_color="white", border_fill_color="white",
               outline_line_color="#333333", outline_line_width=1)
    p.grid.visible = False
    p.add_layout(Grid(dimension=0, ticker=FixedTicker(ticks=X_TICKS, minor_ticks=X_MINOR),
                      grid_line_color="#EBEBEB", grid_line_width=1.1,
                      minor_grid_line_color="#F2F2F2", minor_grid_line_width=0.8))
    p.add_layout(Grid(dimension=1, ticker=FixedTicker(ticks=Y_TICKS, minor_ticks=Y_MINOR),
                      grid_line_color="#EBEBEB", grid_line_width=1.1,
                      minor_grid_line_color="#F2F2F2", minor_grid_line_width=0.8))

    fa, la = PT_ALPHA[i]
    rx, ry = collect(panels[i])
    tx, ty = collect(panels_teal[i])
    p.scatter(rx, ry, size=7, fill_color=RED, fill_alpha=fa, line_color=RED, line_alpha=la)
    p.scatter(tx, ty, size=7, fill_color=TEAL, fill_alpha=fa, line_color=TEAL, line_alpha=la)

    p.varea(x=SX_RED, y1=rlo, y2=rhi, fill_color=RED, fill_alpha=0.4)
    p.varea(x=SX_TEAL, y1=tlo, y2=thi, fill_color=TEAL, fill_alpha=0.4)
    p.line(SX_RED, rf, line_color=RED, line_width=2.6)
    p.line(SX_TEAL, tf, line_color=TEAL, line_width=2.6)

    p.add_layout(Span(location=0, dimension="height", line_color="#1030FF",
                      line_width=1.6, line_dash="7 4"))

    xa = p.xaxis[0]
    xa.ticker = FixedTicker(ticks=X_TICKS)
    xa.formatter = PrintfTickFormatter(format="%d")
    xa.axis_line_color = None
    xa.major_tick_line_color = "#333333"
    xa.major_tick_out = 4
    xa.major_tick_in = 0
    xa.minor_tick_line_color = None
    xa.major_label_standoff = 1
    xa.major_label_text_font = FONT
    xa.major_label_text_font_size = "14px"
    xa.major_label_text_color = "#4D4D4D"

    if first:
        ya = p.yaxis[0]
        ya.ticker = FixedTicker(ticks=Y_TICKS)
        ya.formatter = PrintfTickFormatter(format="%.2f")
        ya.axis_line_color = None
        ya.major_tick_line_color = "#333333"
        ya.major_tick_out = 4
        ya.major_tick_in = 0
        ya.minor_tick_line_color = None
        ya.major_label_standoff = 3
        ya.major_label_text_font = FONT
        ya.major_label_text_font_size = "14px"
        ya.major_label_text_color = "#4D4D4D"
        ya.axis_label = Y_LABEL
        ya.axis_label_text_font = FONT
        ya.axis_label_text_font_size = "16px"
        ya.axis_label_text_font_style = "normal"
        ya.axis_label_text_color = "#000000"
        ya.axis_label_standoff = 16
    return p


cols = [column(make_strip(i), make_panel(i), spacing=0) for i in range(4)]
TOTAL_W = sum(fig_width(i) for i in range(4)) + 3 * GAP

hours = figure(width=TOTAL_W, height=HOURS_H, x_range=Range1d(0, TOTAL_W), y_range=Range1d(0, HOURS_H),
               x_axis_location=None, y_axis_location=None, toolbar_location=None, tools="",
               output_backend="svg", min_border=0, outline_line_color=None)
hours.grid.visible = False
hours.text(x=[600], y=[HOURS_H - 7], text=[X_LABEL], text_align="center", text_baseline="middle",
           text_font=value(FONT), text_font_size="16px", text_color="#000000")

layout = column(row(*cols, spacing=GAP), hours, spacing=0)

open("out.html", "w").write(file_html(layout, INLINE))
